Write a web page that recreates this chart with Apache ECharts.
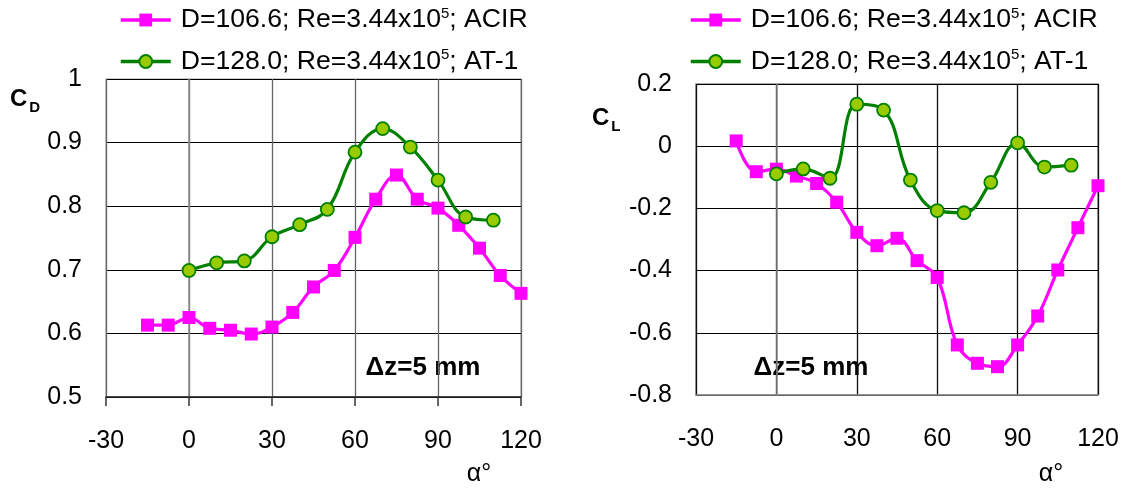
<!DOCTYPE html>
<html>
<head>
<meta charset="utf-8">
<script src="https://cdn.jsdelivr.net/npm/echarts@6/dist/echarts.min.js"></script>
<style>html,body{margin:0;padding:0;background:#fff;}#c{width:1125px;height:488px;}</style>
</head>
<body>
<div id="c"></div>
<script>
// ---- data ----
const xTicks = [-30, 0, 30, 60, 90, 120];
const cdTicks = [0.5, 0.6, 0.7, 0.8, 0.9, 1];
const clTicks = [-0.8, -0.6, -0.4, -0.2, 0, 0.2];

const alphaACIR = [-15, -7.5, 0, 7.5, 15, 22.5, 30, 37.5, 45, 52.5, 60, 67.5, 75, 82.5, 90, 97.5, 105, 112.5, 120];
const cdACIR = [0.613, 0.613, 0.625, 0.608, 0.605, 0.599, 0.610, 0.633, 0.673, 0.699, 0.751, 0.811, 0.849, 0.811, 0.797, 0.770, 0.734, 0.691, 0.663];
const clACIR = [0.017, -0.082, -0.074, -0.096, -0.120, -0.180, -0.277, -0.320, -0.296, -0.368, -0.422, -0.639, -0.698, -0.709, -0.639, -0.546, -0.398, -0.262, -0.127];

const alphaAT1 = [0, 10, 20, 30, 40, 50, 60, 70, 80, 90, 100, 110];
const cdAT1 = [0.699, 0.711, 0.714, 0.752, 0.771, 0.795, 0.885, 0.922, 0.893, 0.841, 0.783, 0.778];
const clAT1 = [-0.089, -0.073, -0.103, 0.135, 0.116, -0.109, -0.207, -0.214, -0.116, 0.011, -0.067, -0.061];

const nameACIR = 'D=106.6; Re=3.44x10^5; ACIR';
const nameAT1 = 'D=128.0; Re=3.44x10^5; AT-1';

const zip = (a, b) => a.map((v, i) => [v, b[i]]);
const FONT = '"Liberation Sans", Arial, sans-serif';
const FS = 25;
const LFS = 26.6;

function legendFmt(n) {
  const parts = n.split('^5');
  return '{a|' + parts[0] + '}{s|5}{a|' + parts[1] + '}';
}
function legend(left) {
  return {
    orient: 'vertical', left: left, top: 6, padding: 0, itemWidth: 50, itemHeight: 16, itemGap: 14,
    data: [nameACIR, nameAT1], selectedMode: false,
    formatter: legendFmt,
    lineStyle: { width: 3.5 },
    textStyle: {
      fontFamily: FONT, color: '#000', padding: [0, 0, 0, 5],
      rich: {
        a: { fontSize: LFS, fontFamily: FONT, color: '#000', lineHeight: 28 },
        s: { fontSize: 15, fontFamily: FONT, color: '#000', verticalAlign: 'top', lineHeight: 18 }
      }
    }
  };
}
function xAxis(gi, lineColor, vColor) {
  return {
    type: 'value', gridIndex: gi, min: xTicks[0], max: xTicks[xTicks.length - 1], interval: 30,
    axisLine: { show: true, onZero: false, lineStyle: { color: lineColor, width: 1.5 } },
    axisTick: { show: gi === 0, length: 9, lineStyle: { color: '#333', width: 1.5 } },
    axisLabel: { fontSize: FS, fontFamily: FONT, color: '#000', margin: 32 },
    splitLine: { show: true, lineStyle: { color: vColor, width: 1.3 } }
  };
}
function yAxis(gi, ticks) {
  return {
    type: 'value', gridIndex: gi, min: ticks[0], max: ticks[ticks.length - 1], interval: 0.2 / (gi === 0 ? 2 : 1),
    axisLine: { show: true, lineStyle: { color: '#8c8c8c', width: 1.5 } },
    axisTick: { show: false },
    axisLabel: { fontSize: FS, fontFamily: FONT, color: '#000', margin: 24,
      formatter: v => String(Math.round(v * 10) / 10) },
    splitLine: { show: true, lineStyle: { color: '#000', width: 1 } }
  };
}
function sACIR(gi, data) {
  return {
    name: nameACIR, type: 'line', xAxisIndex: gi, yAxisIndex: gi, data: data,
    smooth: 0.4, symbol: 'rect', symbolSize: 13,
    lineStyle: { color: '#ff00ff', width: 3.2 },
    itemStyle: { color: '#ff00ff', borderWidth: 0 },
    emphasis: { disabled: true }, z: 3
  };
}
function sAT1(gi, data) {
  return {
    name: nameAT1, type: 'line', xAxisIndex: gi, yAxisIndex: gi, data: data,
    smooth: 0.4, symbol: 'circle', symbolSize: 13,
    lineStyle: { color: '#008000', width: 3.2 },
    itemStyle: { color: '#99cc00', borderColor: '#008000', borderWidth: 1.8 },
    emphasis: { disabled: true }, z: 4
  };
}
const chart = echarts.init(document.getElementById('c'));
chart.setOption({
  animation: false,
  backgroundColor: '#fff',
  textStyle: { fontFamily: FONT },
  legend: [legend(119), legend(689)],
  grid: [
    { left: 106, top: 79, width: 415, height: 318, show: true, borderColor: '#bdbdbd', borderWidth: 1.5 },
    { left: 696, top: 84, width: 402, height: 311, show: true, borderColor: '#8c8c8c', borderWidth: 1.5 }
  ],
  xAxis: [xAxis(0, '#222', '#666'), xAxis(1, '#8c8c8c', '#111')],
  yAxis: [yAxis(0, cdTicks), yAxis(1, clTicks)],
  series: [
    sACIR(0, zip(alphaACIR, cdACIR)), sAT1(0, zip(alphaAT1, cdAT1)),
    sACIR(1, zip(alphaACIR, clACIR)), sAT1(1, zip(alphaAT1, clAT1))
  ],
  graphic: [
    { type: 'text', left: 10, top: 87, style: { text: '{c|C}{d|D}', rich: {
      c: { fontSize: 24, fontWeight: 'bold', fontFamily: FONT, fill: '#000', verticalAlign: 'top', lineHeight: 28, padding: [0, 2, 0, 0] },
      d: { fontSize: 15, fontWeight: 'bold', fontFamily: FONT, fill: '#000', verticalAlign: 'bottom', lineHeight: 15 } } } },
    { type: 'text', left: 592, top: 106, style: { text: '{c|C}{d|L}', rich: {
      c: { fontSize: 24, fontWeight: 'bold', fontFamily: FONT, fill: '#000', verticalAlign: 'top', lineHeight: 28, padding: [0, 2, 0, 0] },
      d: { fontSize: 15, fontWeight: 'bold', fontFamily: FONT, fill: '#000', verticalAlign: 'bottom', lineHeight: 15 } } } },
    { type: 'text', x: 423, y: 368, style: { text: '\u0394z=5 mm', fontSize: 26, fontWeight: 'bold', fontFamily: FONT, fill: '#000', align: 'center', verticalAlign: 'middle' } },
    { type: 'text', x: 811, y: 368, style: { text: '\u0394z=5 mm', fontSize: 26, fontWeight: 'bold', fontFamily: FONT, fill: '#000', align: 'center', verticalAlign: 'middle' } },
    { type: 'text', x: 479, y: 474, style: { text: '\u03b1\u00b0', fontSize: FS, fontFamily: FONT, fill: '#000', align: 'center', verticalAlign: 'middle' } },
    { type: 'text', x: 1051, y: 474, style: { text: '\u03b1\u00b0', fontSize: FS, fontFamily: FONT, fill: '#000', align: 'center', verticalAlign: 'middle' } }
  ]
});
</script>
</body>
</html>
